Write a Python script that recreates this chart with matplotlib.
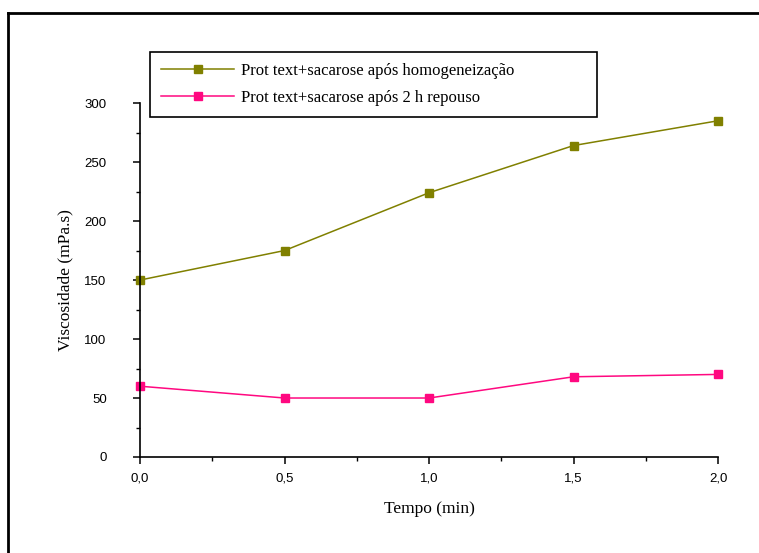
import matplotlib.pyplot as plt
from matplotlib.lines import Line2D
from matplotlib.ticker import MultipleLocator

tempo = [0.0, 0.5, 1.0, 1.5, 2.0]
homog = [150, 175, 224, 264, 285]
repouso = [60, 50, 50, 68, 70]
xticks = [0.0, 0.5, 1.0, 1.5, 2.0]
xticklabels = ['0,0', '0,5', '1,0', '1,5', '2,0']

fig = plt.figure(figsize=(7.59, 5.53), dpi=100)
ax = fig.add_axes([0.1845, 0.1736, 0.7615, 0.640])

ax.plot(tempo, homog, color='#808000', marker='s', markersize=6, linewidth=1.1,
        clip_on=False, label='Prot text+sacarose após homogeneização')
ax.plot(tempo, repouso, color='#FF0880', marker='s', markersize=6, linewidth=1.1,
        clip_on=False, label='Prot text+sacarose após 2 h repouso')

for s in ['top', 'right']:
    ax.spines[s].set_visible(False)
ax.spines['left'].set_linewidth(1.2)
ax.spines['bottom'].set_linewidth(1.2)

ax.set_xticks(xticks)
ax.set_xticklabels(xticklabels)
ax.xaxis.set_minor_locator(MultipleLocator(0.25))
ax.yaxis.set_major_locator(MultipleLocator(50))
ax.yaxis.set_minor_locator(MultipleLocator(25))
ax.set_xlim(0, 2.0)
ax.set_ylim(0, 300)

ax.tick_params(axis='both', which='major', direction='out', length=5, width=1.1,
               labelsize=9.5)
ax.tick_params(axis='y', which='major', pad=19)
ax.tick_params(axis='x', which='major', pad=6)
ax.tick_params(axis='both', which='minor', direction='out', length=3, width=1.0)
for lab in ax.get_xticklabels() + ax.get_yticklabels():
    lab.set_fontfamily('Liberation Sans')

ax.set_xlabel('Tempo (min)', fontfamily='Liberation Serif', fontsize=12.5, labelpad=12)
ax.set_ylabel('Viscosidade (mPa.s)', fontfamily='Liberation Serif', fontsize=12.5, labelpad=8)

leg = ax.legend(loc='upper left', bbox_to_anchor=(0.0173, 1.144, 0.7734, 0), mode='expand',
                fancybox=False, edgecolor='black', framealpha=1, borderpad=0.65,
                handlelength=4.4, handletextpad=0.4, borderaxespad=0,
                prop={'family': 'Liberation Serif', 'size': 12}, labelspacing=0.65)
leg.get_frame().set_linewidth(1.2)

# outer frame
fig.add_artist(Line2D([0.0105, 0.0105], [0, 0.9765], color='black', linewidth=2,
                      transform=fig.transFigure))
fig.add_artist(Line2D([0.0105, 1.0], [0.9765, 0.9765], color='black', linewidth=2,
                      transform=fig.transFigure))

fig.savefig('out.png', dpi=100)
